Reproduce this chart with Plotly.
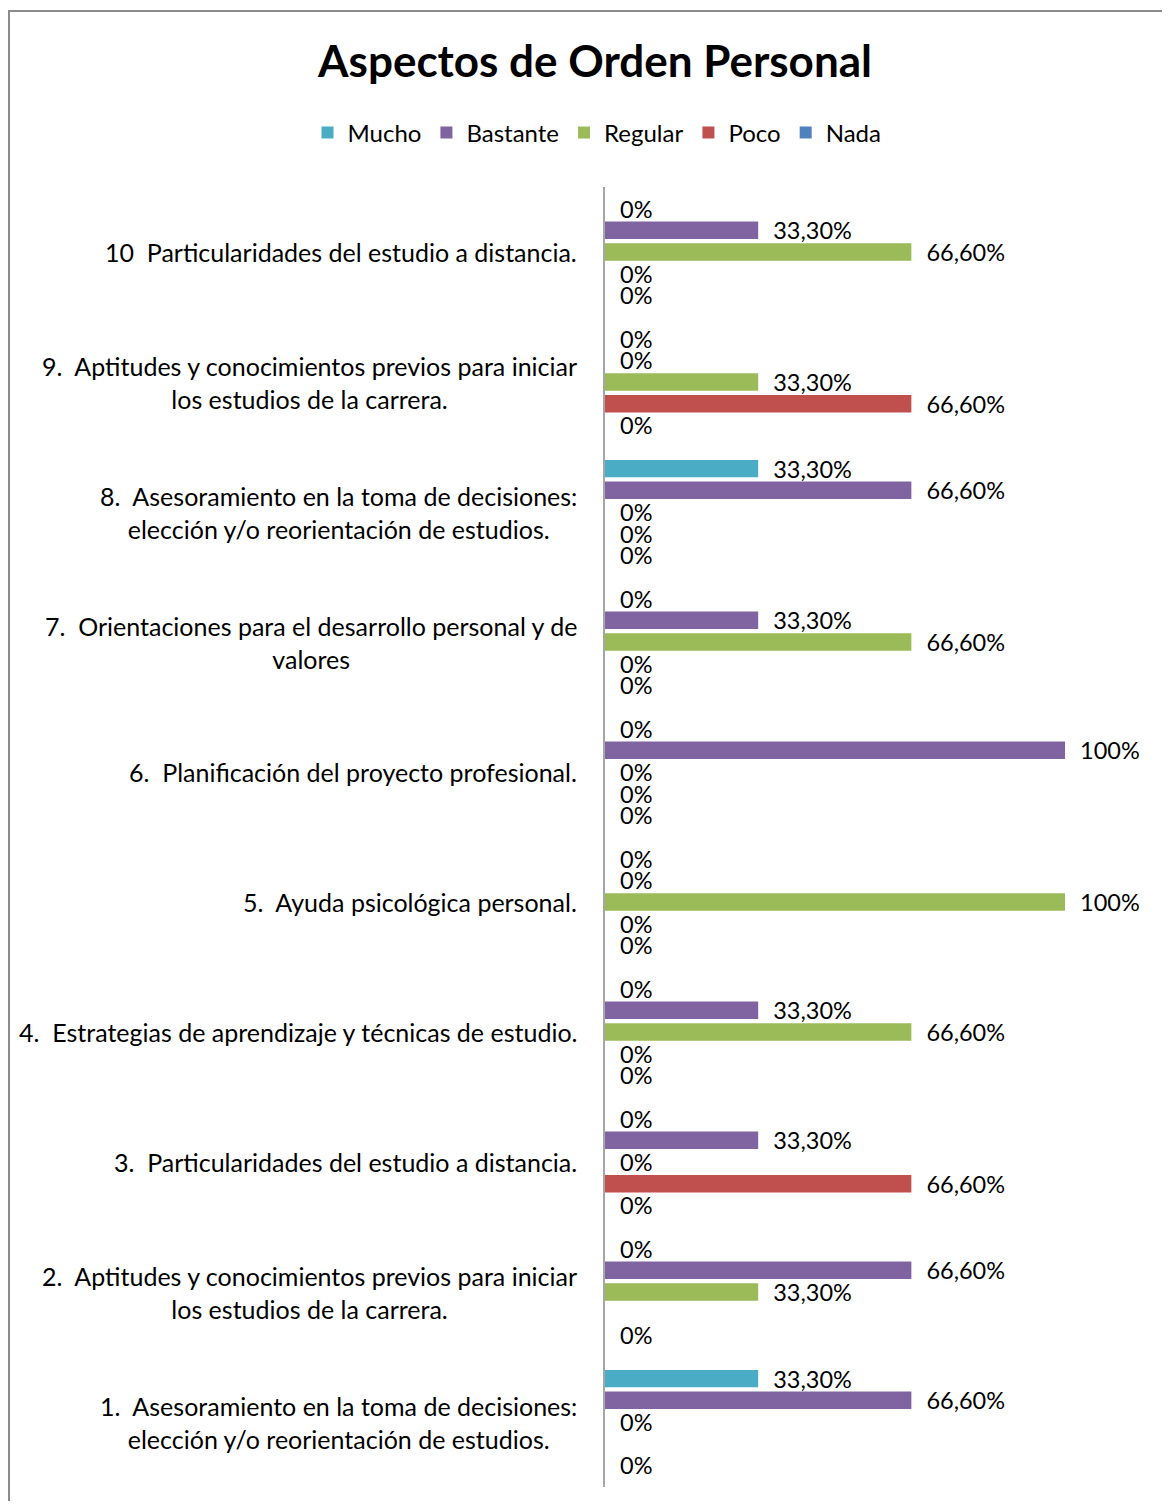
import plotly.graph_objects as go

# categorías (de arriba hacia abajo)
categories = [
    "10\u00a0 Particularidades del estudio a distancia.",
    "9.\u00a0 Aptitudes y conocimientos previos para iniciar<br>los estudios de la carrera.",
    "8.\u00a0 Asesoramiento en la toma de decisiones:<br>elección y/o reorientación de estudios.",
    "7.\u00a0 Orientaciones para el desarrollo personal y de<br>valores",
    "6.\u00a0 Planificación del proyecto profesional.",
    "5.\u00a0 Ayuda psicológica personal.",
    "4.\u00a0 Estrategias de aprendizaje y técnicas de estudio.",
    "3.\u00a0 Particularidades del estudio a distancia.",
    "2.\u00a0 Aptitudes y conocimientos previos para iniciar<br>los estudios de la carrera.",
    "1.\u00a0 Asesoramiento en la toma de decisiones:<br>elección y/o reorientación de estudios.",
]

mucho = [0, 0, 33.3, 0, 0, 0, 0, 0, 0, 33.3]
bastante = [33.3, 0, 66.6, 33.3, 100, 0, 33.3, 33.3, 66.6, 66.6]
regular = [66.6, 33.3, 0, 66.6, 0, 100, 66.6, 0, 33.3, 0]
poco = [0, 66.6, 0, 0, 0, 0, 0, 66.6, None, None]
nada = [0, 0, 0, 0, 0, 0, 0, 0, 0, 0]

series = [
    ("Mucho", mucho, "#4BACC6"),
    ("Bastante", bastante, "#8064A2"),
    ("Regular", regular, "#9BBB59"),
    ("Poco", poco, "#C0504D"),
    ("Nada", nada, "#4F81BD"),
]

FONT = "Lato"
OFF = 8  # margen del body de la página
W, H = 1170 - OFF, 1509 - 2 * OFF
ML, MR = 605 - OFF, 105
MT = 187 - OFF
MB = H - (1487 - OFF)
PW, PH = W - ML - MR, H - MT - MB


def fmt(v):
    if v is None:
        return ""
    if float(v).is_integer():
        s = f"{int(v)}%"
    else:
        s = f"{v:.2f}".replace(".", ",") + "%"
    return "\u00a0\u00a0" + s


# posiciones de la imagen de referencia -> coordenadas "paper"
def px_x(px):
    return (px - OFF - ML) / PW


def px_y(py):
    return (H - MB - (py - OFF)) / PH


fig = go.Figure()
for name, vals, color in series:
    fig.add_trace(go.Bar(
        y=categories,
        x=vals,
        name=name,
        orientation="h",
        marker=dict(color=color, line=dict(width=0)),
        text=[fmt(v) for v in vals],
        textposition="outside",
        textfont=dict(family=FONT, size=23.5, color="#000000"),
        constraintext="none",
        cliponaxis=False,
    ))

for cat in categories:
    fig.add_annotation(
        x=px_x(579), xref="paper", y=cat, yref="y",
        xanchor="right", yanchor="middle", align="center",
        text=cat, showarrow=False,
        font=dict(family=FONT, size=25, color="#000000"),
    )

# marco del gráfico (solo arriba e izquierda)
border = dict(color="#8C8C8C", width=2)
fig.add_shape(type="line", xref="paper", yref="paper",
              x0=px_x(9), x1=px_x(1200), y0=px_y(11), y1=px_y(11), line=border)
fig.add_shape(type="line", xref="paper", yref="paper",
              x0=px_x(9), x1=px_x(9), y0=px_y(10), y1=px_y(1530), line=border)

fig.update_layout(
    width=W, height=H,
    margin=dict(l=ML, r=MR, t=MT, b=MB),
    paper_bgcolor="white", plot_bgcolor="white",
    barmode="group", bargap=0.165, bargroupgap=0.2,
    title=dict(
        text="<b>Aspectos de Orden Personal</b>",
        x=(595 - OFF) / W, xanchor="center", y=1 - (62 - OFF) / H, yanchor="middle",
        font=dict(family=FONT, size=44, color="#000000"),
    ),
    legend=dict(
        orientation="h", x=px_x(597), xanchor="center",
        y=px_y(133), yanchor="middle",
        font=dict(family=FONT, size=24, color="#000000"),
        itemclick=False,
    ),
    showlegend=True,
    font=dict(family=FONT),
    xaxis=dict(range=[0, 100], showgrid=False, zeroline=False,
               showticklabels=False, showline=False, ticks=""),
    yaxis=dict(autorange="reversed", showgrid=False, zeroline=False,
               showticklabels=False, showline=True, linecolor="#A6A6A6",
               linewidth=2, ticks=""),
)

fig.write_html("out.html")
